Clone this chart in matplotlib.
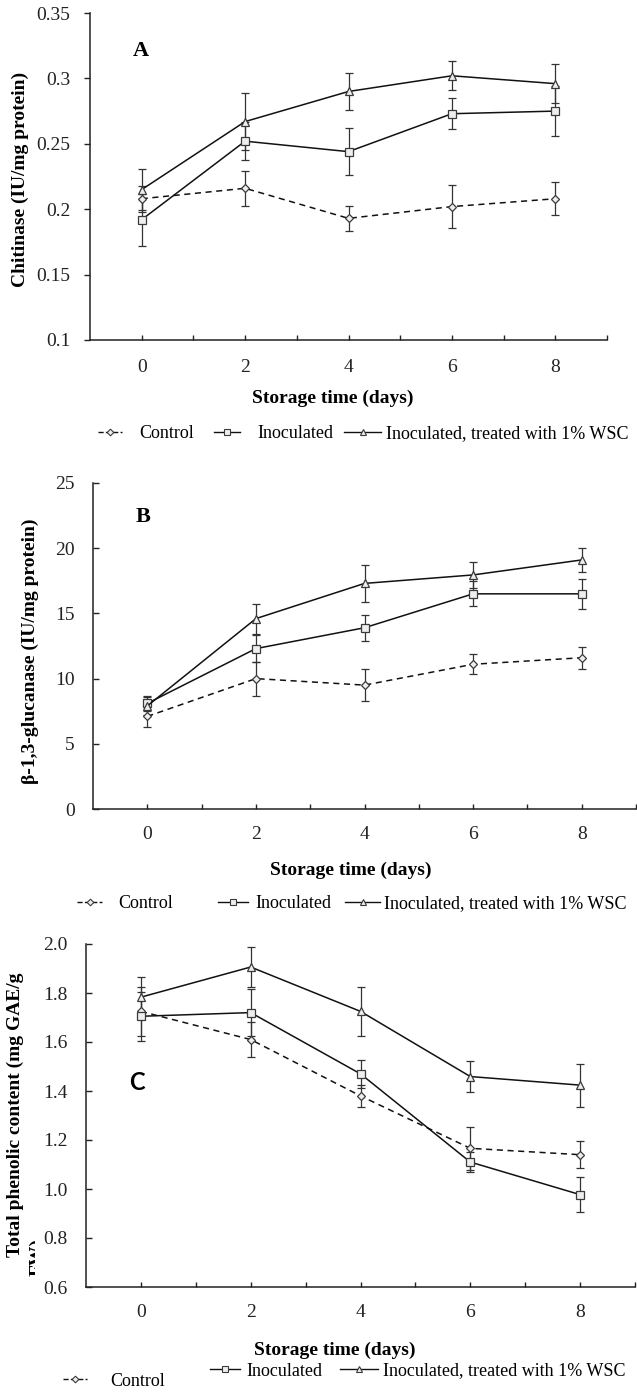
import matplotlib
matplotlib.use("Agg")
import matplotlib.pyplot as plt
from matplotlib.lines import Line2D
from matplotlib.transforms import Bbox

plt.rcParams['font.family'] = ['Liberation Serif', 'DejaVu Serif']

# ---------------- data ----------------
days = [0, 2, 4, 6, 8]
series_labels = ["Control", "Inoculated", "Inoculated, treated with 1% WSC"]

chit_control = [0.208, 0.216, 0.193, 0.202, 0.208]
chit_control_err = [0.010, 0.0135, 0.0095, 0.0165, 0.0125]
chit_inoc = [0.192, 0.252, 0.244, 0.273, 0.275]
chit_inoc_err = [0.020, 0.0145, 0.018, 0.012, 0.019]
chit_wsc = [0.215, 0.267, 0.290, 0.302, 0.296]
chit_wsc_err = [0.0155, 0.022, 0.014, 0.011, 0.015]

glu_control = [7.1, 10.0, 9.5, 11.1, 11.6]
glu_control_err = [0.8, 1.3, 1.2, 0.75, 0.85]
glu_inoc = [8.1, 12.3, 13.9, 16.5, 16.5]
glu_inoc_err = [0.6, 1.05, 1.0, 0.95, 1.15]
glu_wsc = [7.9, 14.6, 17.3, 17.95, 19.1]
glu_wsc_err = [0.7, 1.15, 1.4, 1.0, 0.9]

phen_control = [1.725, 1.61, 1.38, 1.166, 1.14]
phen_control_err = [0.10, 0.072, 0.045, 0.087, 0.055]
phen_inoc = [1.705, 1.72, 1.47, 1.11, 0.977]
phen_inoc_err = [0.10, 0.095, 0.058, 0.04, 0.07]
phen_wsc = [1.783, 1.906, 1.725, 1.459, 1.424]
phen_wsc_err = [0.081, 0.081, 0.10, 0.062, 0.088]

x_ticks = [0, 1, 2, 3, 4, 5, 6, 7, 8, 9]
x_ticklabels = ["0", "", "2", "", "4", "", "6", "", "8", ""]
a_yticks = [0.1, 0.15, 0.2, 0.25, 0.3, 0.35]
a_yticklabels = ["0.1", "0.15", "0.2", "0.25", "0.3", "0.35"]
b_yticks = [0, 5, 10, 15, 20, 25]
b_yticklabels = ["0", "5", "10", "15", "20", "25"]
c_yticks = [0.6, 0.8, 1.0, 1.2, 1.4, 1.6, 1.8, 2.0]
c_yticklabels = ["0.6", "0.8", "1.0", "1.2", "1.4", "1.6", "1.8", "2.0"]

xlabel = "Storage time (days)"
ylabel_a = "Chitinase (IU/mg protein)"
ylabel_b = "\u03b2-1,3-glucanase (IU/mg protein)"
ylabel_c = "Total phenolic content (mg GAE/g"
ylabel_c2 = "FW)"

# ---------------- layout ----------------
W, H = 637, 1394
fig = plt.figure(figsize=(W / 100, H / 100), dpi=100)
fig.patch.set_facecolor("white")


def fx(px):
    return px / W


def fy(py):
    return 1 - py / H


def make_axes(x0, x1, ytop, ybot):
    return fig.add_axes([fx(x0), fy(ybot), (x1 - x0) / W, (ybot - ytop) / H])


LINE_C = "#111111"
MEC = "#3a3a3a"
MFC = "#eeeeee"
FS_TICK = 14
FS_LAB = 14
FS_LEG = 13

styles = [
    dict(ls=(0, (4, 3)), marker="D", ms=4.0),
    dict(ls="-", marker="s", ms=5.5),
    dict(ls="-", marker="^", ms=5.5),
]


def draw_panel(ax, ys, errs, ylim, yticks, yticklabels, ytickdir, ypad, xpad):
    handles = []
    for y, e, st in zip(ys, errs, styles):
        ax.errorbar(days, y, yerr=e, fmt="none", ecolor="#333333",
                    elinewidth=0.9, capsize=3, capthick=0.9, zorder=2)
        (h,) = ax.plot(days, y, color=LINE_C, lw=1.1, ls=st["ls"],
                       marker=st["marker"], ms=st["ms"], mfc=MFC, mec=MEC,
                       mew=0.9, zorder=3)
        handles.append(h)
    ax.set_xlim(-1, 9)
    ax.set_ylim(*ylim)
    ax.set_xticks(x_ticks)
    ax.set_xticklabels(x_ticklabels)
    ax.set_yticks(yticks)
    ax.set_yticklabels(yticklabels)
    for s in ("top", "right"):
        ax.spines[s].set_visible(False)
    for s in ("left", "bottom"):
        ax.spines[s].set_color("#222222")
        ax.spines[s].set_linewidth(1.1)
    ax.tick_params(axis="x", direction="in", length=3.5, width=1.0,
                   pad=xpad, labelsize=FS_TICK, colors="#222222")
    ax.tick_params(axis="y", direction=ytickdir, length=4, width=1.0,
                   pad=ypad, labelsize=FS_TICK, colors="#222222")
    ax.set_facecolor("none")
    return handles


def draw_legend(handles, y, spec, y_ctrl=None):
    # spec: list of (handle_x0, handle_x1, text_x)
    fs_px = FS_LEG * 100 / 72
    for i, (h, lab, (h0, h1, tx)) in enumerate(zip(handles, series_labels, spec)):
        yy = y_ctrl if (i == 0 and y_ctrl is not None) else y
        hd = Line2D([], [], color=LINE_C, lw=1.0, ls=h.get_linestyle(),
                    marker=h.get_marker(), ms=h.get_markersize() * 0.85,
                    mfc=MFC, mec=MEC, mew=0.8)
        fig.legend(handles=[hd], labels=[lab], loc="center left",
                   bbox_to_anchor=(fx(h0), fy(yy)), frameon=False,
                   borderpad=0, borderaxespad=0, numpoints=1,
                   handlelength=(h1 - h0) / fs_px,
                   handletextpad=(tx - h1) / fs_px,
                   prop={"family": "Liberation Serif", "size": FS_LEG})


# ---- Panel A ----
axA = make_axes(90, 607, 13, 340)
hA = draw_panel(axA, [chit_control, chit_inoc, chit_wsc],
                [chit_control_err, chit_inoc_err, chit_wsc_err],
                (0.1, 0.35), a_yticks, a_yticklabels, "out", 10, 14)
fig.text(fx(20), fy(179), ylabel_a, rotation=90, ha="center", va="center",
         fontsize=FS_LAB, fontweight="bold")
fig.text(fx(141), fy(51), "A", ha="center", va="center", fontsize=16,
         fontweight="bold")
fig.text(fx(333), fy(398), xlabel, ha="center", va="center",
         fontsize=FS_LAB, fontweight="bold")
draw_legend(hA, 434, [(98, 122, 139), (214, 240, 257), (344, 381, 386)])

# ---- Panel B ----
axB = make_axes(93, 636, 483, 809)
hB = draw_panel(axB, [glu_control, glu_inoc, glu_wsc],
                [glu_control_err, glu_inoc_err, glu_wsc_err],
                (0, 25), b_yticks, b_yticklabels, "in", 13, 12)
fig.text(fx(30), fy(651), ylabel_b, rotation=90, ha="center", va="center",
         fontsize=FS_LAB, fontweight="bold")
fig.text(fx(143), fy(517), "B", ha="center", va="center", fontsize=16,
         fontweight="bold")
fig.text(fx(351), fy(870), xlabel, ha="center", va="center",
         fontsize=FS_LAB, fontweight="bold")
draw_legend(hB, 904, [(77, 102, 118), (218, 248, 255), (345, 380, 384)])

# ---- Panel C ----
axC = make_axes(86, 635, 944, 1287)
hC = draw_panel(axC, [phen_control, phen_inoc, phen_wsc],
                [phen_control_err, phen_inoc_err, phen_wsc_err],
                (0.6, 2.0), c_yticks, c_yticklabels, "in", 13, 12.5)
fig.text(fx(15), fy(1115), ylabel_c, rotation=90, ha="center", va="center",
         fontsize=FS_LAB, fontweight="bold")
t2 = fig.text(fx(38), fy(1257), ylabel_c2, rotation=90, ha="center",
              va="center", fontsize=FS_LAB, fontweight="bold", clip_on=True)
t2.set_clip_box(Bbox([[0, 0], [35, H]]))
fig.text(fx(137), fy(1083), "C", ha="center", va="center", fontsize=17,
         fontweight="bold", family=["Lato", "DejaVu Sans"])
fig.text(fx(335), fy(1350), xlabel, ha="center", va="center",
         fontsize=FS_LAB, fontweight="bold")
draw_legend(hC, 1371, [(63, 87, 110), (210, 240, 246), (340, 378, 383)],
            y_ctrl=1381)

fig.savefig("out.png", dpi=100, facecolor="white")
